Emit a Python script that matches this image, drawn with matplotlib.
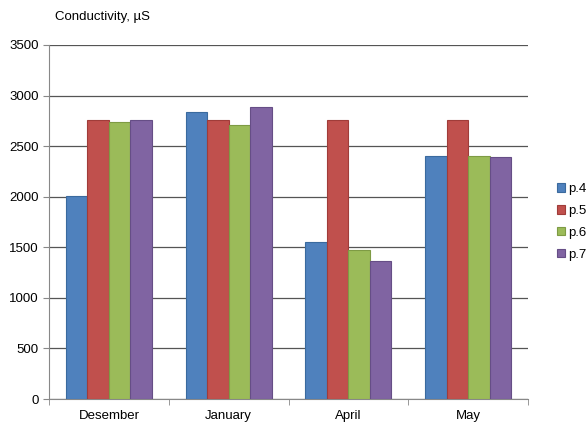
import numpy as np
import matplotlib
matplotlib.use("Agg")
import matplotlib.pyplot as plt
from matplotlib.ticker import FixedLocator

plt.rcParams['font.family'] = ['Liberation Sans', 'DejaVu Sans']

months = ['Desember', 'January', 'April', 'May']
p4 = [2010, 2840, 1550, 2405]
p5 = [2760, 2760, 2760, 2760]
p6 = [2740, 2710, 1470, 2405]
p7 = [2760, 2890, 1360, 2395]
series = ['p.4', 'p.5', 'p.6', 'p.7']
colors = ['#4F81BD', '#C0504D', '#9BBB59', '#8064A2']
edges = ['#3A6A9E', '#A03C39', '#7E9B44', '#664E86']

fig = plt.figure(figsize=(5.87, 4.23), dpi=100)
ax = fig.add_axes([0.0835, 0.0567, 0.816, 0.837])

x = np.arange(len(months))
w = 0.18
for i, (vals, name) in enumerate(zip([p4, p5, p6, p7], series)):
    ax.bar(x + (i - 1.5) * w, vals, w, color=colors[i], edgecolor=edges[i],
           linewidth=0.8, label=name, zorder=3)

ax.set_xlim(-0.5, len(months) - 0.5)
ax.set_ylim(0, 3500)
ax.set_yticks(np.arange(0, 3501, 500))
ax.yaxis.grid(True, color='#555555', linewidth=0.9, zorder=0)
ax.set_axisbelow(True)

ax.set_xticks(x)
ax.set_xticklabels(months, fontsize=9.5)
ax.xaxis.set_minor_locator(FixedLocator(np.arange(-0.5, len(months), 1.0)))
ax.tick_params(axis='x', which='major', length=0, pad=8)
ax.tick_params(axis='x', which='minor', length=4, color='#888888')
ax.tick_params(axis='y', length=4, color='#888888', labelsize=9.5)

for s in ['top', 'right']:
    ax.spines[s].set_visible(False)
for s in ['left', 'bottom']:
    ax.spines[s].set_color('#888888')

fig.text(0.094, 0.96, 'Conductivity, µS', fontsize=9.5, va='center')

ax.legend(loc='center left', bbox_to_anchor=(1.035, 0.5), frameon=False,
          fontsize=9.5, handlelength=0.6, handleheight=0.6, handletextpad=0.3,
          labelspacing=0.75)

fig.savefig('out.png', dpi=100)
